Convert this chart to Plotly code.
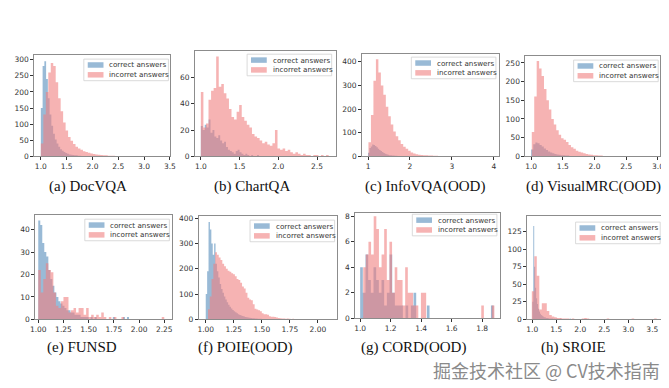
import numpy as np
import plotly.graph_objects as go

W, H = 669, 388

titles = ["(a) DocVQA", "(b) ChartQA", "(c) InfoVQA(OOD)", "(d) VisualMRC(OOD)",
          "(e) FUNSD", "(f) POIE(OOD)", "(g) CORD(OOD)", "(h) SROIE"]
legend_labels = ["correct answers", "incorret answers"]
watermark = "掘金技术社区 @ CV技术指南"

# ---- histogram data: (bin range lo, hi) and counts per bin ----
docvqa_correct_range = (1.0, 2.7)
docvqa_correct = [150, 280, 295, 240, 180, 130, 95, 70, 52, 40, 30, 22, 17, 13, 10, 8, 6, 5, 4, 3,
                  3, 2, 2, 1, 1, 1, 1, 0, 1, 0, 0, 0, 1, 0, 0, 0, 0, 0, 0, 0,
                  0, 0, 0, 0, 0, 0, 0, 0, 0, 1]
docvqa_incorrect_range = (1.0, 3.4)
docvqa_incorrect = [40, 130, 200, 260, 290, 280, 230, 180, 140, 105, 80, 60, 48, 38, 30, 24, 20, 16, 13, 11,
                    9, 7, 6, 5, 4, 3, 3, 2, 2, 2, 1, 1, 1, 1, 0, 1, 0, 0, 1, 0,
                    0, 0, 0, 1, 0, 0, 0, 0, 0, 1]

chartqa_correct_range = (1.0, 1.75)
chartqa_correct = [23, 20, 24, 22, 28, 18, 20, 15, 14, 16, 12, 10, 11, 7, 5, 4, 3, 2, 4, 5,
                   3, 2, 1, 2, 1, 0, 1, 0, 0, 1]
chartqa_incorrect_range = (1.0, 2.65)
chartqa_incorrect = [49, 22, 25, 43, 50, 52, 76, 53, 55, 48, 44, 36, 30, 28, 34, 39, 30, 27, 24, 22,
                     17, 15, 14, 12, 10, 11, 9, 8, 10, 20, 6, 5, 6, 4, 5, 3, 2, 3, 2, 1,
                     2, 1, 1, 0, 1, 1, 0, 1, 0, 1]

infovqa_correct_range = (1.0, 2.0)
infovqa_correct = [15, 35, 42, 50, 48, 44, 38, 32, 27, 22, 18, 14, 11, 9, 7, 5, 4, 3, 3, 2,
                   2, 1, 1, 1, 0, 1, 0, 0, 0, 1]
infovqa_incorrect_range = (1.01, 3.97)
infovqa_incorrect = [60, 175, 320, 411, 355, 300, 260, 210, 170, 135, 105, 85, 68, 52, 40, 32, 24, 16, 12, 9,
                     7, 6, 5, 4, 3, 3, 2, 2, 1, 1, 1, 1, 0, 1, 0, 0, 1, 0, 0, 0,
                     0, 0, 0, 0, 0, 0, 0, 0, 0, 1]

visualmrc_correct_range = (1.0, 2.0)
visualmrc_correct = [18, 32, 37, 35, 30, 26, 21, 17, 13, 10, 8, 6, 5, 4, 3, 3, 2, 2, 1, 1,
                     1, 1, 0, 1, 0, 0, 0, 0, 0, 1]
visualmrc_incorrect_range = (1.01, 2.94)
visualmrc_incorrect = [65, 160, 255, 235, 215, 180, 150, 125, 100, 85, 70, 58, 48, 44, 38, 30, 24, 20, 15, 12,
                       10, 8, 6, 5, 4, 3, 3, 2, 2, 1, 1, 1, 1, 0, 1, 0, 0, 0, 1, 0,
                       0, 0, 0, 0, 0, 0, 0, 0, 0, 1]

funsd_correct_range = (1.0, 1.9)
funsd_correct = [44, 42, 34, 30, 28, 22, 18, 15, 12, 10, 8, 7, 6, 5, 4, 4, 3, 3, 2, 2,
                 2, 1, 1, 1, 1, 0, 1, 0, 1, 0, 0, 0, 0, 0, 0, 0, 0, 1, 0, 0,
                 0, 0, 1, 0, 1]
funsd_incorrect_range = (1.0, 2.25)
funsd_incorrect = [22, 12, 18, 25, 22, 21, 12, 6, 5, 8, 10, 10, 3, 4, 5, 3, 5, 5, 2, 5,
                   1, 2, 1, 2, 1, 3, 1, 0, 1, 0, 1, 0, 0, 1, 0, 0, 0, 0, 0, 0,
                   0, 0, 0, 0, 0, 0, 0, 0, 0, 1]

poie_correct_range = (1.0, 1.625)
poie_correct = [100, 190, 385, 355, 300, 255, 300, 220, 190, 165, 140, 120, 105, 90, 78, 68, 58, 50, 43, 37,
                32, 28, 24, 20, 17, 15, 13, 11, 9, 8, 7, 6, 5, 4, 4, 3, 3, 2, 2, 2,
                1, 1, 1, 1, 1, 0, 1, 0, 0, 1]
poie_incorrect_range = (1.02, 1.82)
poie_incorrect = [40, 90, 160, 220, 265, 255, 245, 235, 220, 210, 200, 192, 188, 182, 178, 170, 160, 156, 145, 130,
                  122, 105, 85, 78, 75, 60, 42, 39, 36, 32, 24, 20, 20, 18, 12, 10, 10, 9, 7, 5,
                  4, 3, 3, 2, 3, 2, 1, 2, 1, 1]

cord_correct_range = (1.0, 1.875)
cord_correct = [4, 2, 5, 3, 2, 4, 3, 2, 3, 1, 2, 5, 2, 1, 1, 1, 0, 1, 0, 1,
                2, 0, 0, 0, 0, 1, 0, 0, 0, 0, 0, 0, 0, 0, 0, 0, 0, 0, 0, 0,
                0, 0, 0, 0, 0, 0, 0, 0, 0, 1]
cord_incorrect_range = (1.02, 1.88)
cord_incorrect = [4, 5, 6, 5, 8, 7, 4, 5, 7, 3, 6, 2, 4, 3, 3, 1, 4, 2, 2, 1,
                  1, 0, 2, 2, 0, 0, 0, 0, 0, 0, 0, 0, 0, 0, 0, 0, 0, 0, 0, 0,
                  0, 0, 0, 0, 0, 1, 0, 0, 0, 1]

sroie_correct_range = (1.0, 1.8)
sroie_correct = [25, 133, 75, 45, 30, 22, 15, 11, 8, 6, 5, 4, 3, 3, 2, 2, 2, 1, 1, 1,
                 1, 1, 0, 1, 0, 1, 0, 0, 0, 1, 0, 0, 0, 0, 0, 0, 0, 0, 0, 1]
sroie_incorrect_range = (0.99, 3.59)
sroie_incorrect = [40, 90, 62, 14, 23, 23, 12, 6, 4, 3, 2, 2, 1, 1, 1, 0, 1, 0, 0, 0,
                   1, 2, 1, 0, 0, 0, 0, 0, 0, 0, 1, 0, 0, 0, 0, 0, 0, 0, 0, 0,
                   1, 0, 0, 0, 0, 0, 0, 0, 0, 1]

# axis ranges and ticks
x_ranges = [(0.874, 3.51), (0.924, 2.74), (0.86, 4.12), (0.91, 3.035),
            (0.971, 2.33), (0.939, 2.167), (0.968, 1.916), (0.898, 3.725)]
y_ranges = [(0, 314), (0, 80), (0, 432), (0, 268), (0, 46.4), (0, 408), (0, 8.23), (0, 147)]
x_ticks = [[1.0, 1.5, 2.0, 2.5, 3.0, 3.5], [1.0, 1.5, 2.0, 2.5], [1, 2, 3, 4], [1.0, 1.5, 2.0, 2.5, 3.0],
           [1.0, 1.25, 1.5, 1.75, 2.0, 2.25], [1.0, 1.25, 1.5, 1.75, 2.0], [1.0, 1.2, 1.4, 1.6, 1.8],
           [1.0, 1.5, 2.0, 2.5, 3.0, 3.5]]
x_fmt = [".1f", ".1f", "d", ".1f", ".2f", ".2f", ".1f", ".1f"]
y_ticks = [[0, 50, 100, 150, 200, 250, 300], [0, 20, 40, 60], [0, 100, 200, 300, 400],
           [0, 50, 100, 150, 200, 250], [0, 10, 20, 30, 40], [0, 100, 200, 300, 400],
           [0, 2, 4, 6, 8], [0, 25, 50, 75, 100, 125]]

correct_sets = [(docvqa_correct_range, docvqa_correct), (chartqa_correct_range, chartqa_correct),
                (infovqa_correct_range, infovqa_correct), (visualmrc_correct_range, visualmrc_correct),
                (funsd_correct_range, funsd_correct), (poie_correct_range, poie_correct),
                (cord_correct_range, cord_correct), (sroie_correct_range, sroie_correct)]
incorrect_sets = [(docvqa_incorrect_range, docvqa_incorrect), (chartqa_incorrect_range, chartqa_incorrect),
                  (infovqa_incorrect_range, infovqa_incorrect), (visualmrc_incorrect_range, visualmrc_incorrect),
                  (funsd_incorrect_range, funsd_incorrect), (poie_incorrect_range, poie_incorrect),
                  (cord_incorrect_range, cord_incorrect), (sroie_incorrect_range, sroie_incorrect)]

# ---- layout (pixels) ----
axis_boxes = [(21.7, 46, 160, 149), (185, 42, 328, 149), (355, 45, 494, 149), (521, 47, 658, 149),
              (22.7, 209, 162, 315), (189, 210, 329, 315), (348, 207, 495, 314), (523, 210, 661, 315)]
legend_corners = [(158, 50), (324, 45), (491, 48), (656, 51),
                  (159, 213), (327, 214), (492, 208), (658, 216)]
caption_pos = [(76, 180), (243, 180), (419, 180), (590, 180),
               (70, 344), (236, 344), (407, 344), (570, 344)]

C_COR = "rgba(70,130,180,0.55)"
C_INC = "rgba(240,128,128,0.6)"
FONT = "DejaVu Sans"


def px(x):
    return x / W


def py(y):
    return 1 - y / H


fig = go.Figure()
shapes = []
annotations = []

for i in range(8):
    sfx = "" if i == 0 else str(i + 1)
    for (rng, counts), col, name in [(correct_sets[i], C_COR, legend_labels[0]),
                                     (incorrect_sets[i], C_INC, legend_labels[1])]:
        edges = np.linspace(rng[0], rng[1], len(counts) + 1)
        ys = list(counts) + [counts[-1]]
        fig.add_trace(go.Scatter(x=edges, y=ys, mode="lines", line=dict(shape="hv", width=0, color=col),
                                 fill="tozeroy", fillcolor=col,
                                 name=name, showlegend=False,
                                 xaxis="x" + sfx, yaxis="y" + sfx, hoverinfo="x+y"))
    x0, y0, x1, y1 = axis_boxes[i]
    common = dict(showline=True, mirror=True, linecolor="#8c8c8c", linewidth=1,
                  ticks="outside", ticklen=3, tickwidth=0.8, tickcolor="#333",
                  showgrid=False, zeroline=False,
                  tickfont=dict(family=FONT, size=7.5, color="#333"))
    fig.update_layout(**{
        "xaxis" + sfx: dict(domain=[px(x0), px(x1)], range=list(x_ranges[i]), anchor="y" + sfx,
                            tickvals=x_ticks[i], tickformat=x_fmt[i], **common),
        "yaxis" + sfx: dict(domain=[py(y1), py(y0)], range=list(y_ranges[i]), anchor="x" + sfx,
                            tickvals=y_ticks[i], **common),
    })

    # legend box drawn in paper space
    rx, ty = legend_corners[i]
    lx = rx - 86
    shapes.append(dict(type="rect", xref="paper", yref="paper",
                       x0=px(lx), x1=px(rx), y0=py(ty + 22), y1=py(ty),
                       fillcolor="rgba(255,255,255,0.85)", line=dict(color="#d0d0d0", width=0.8)))
    for k, (col, lab) in enumerate([(C_COR, legend_labels[0]), (C_INC, legend_labels[1])]):
        cy = ty + 6 + k * 10
        shapes.append(dict(type="rect", xref="paper", yref="paper",
                           x0=px(lx + 4), x1=px(lx + 20), y0=py(cy + 2.8), y1=py(cy - 2.8),
                           fillcolor=col, line=dict(width=0)))
        annotations.append(dict(xref="paper", yref="paper", x=px(lx + 24), y=py(cy),
                                xanchor="left", yanchor="middle", showarrow=False, text=lab,
                                font=dict(family=FONT, size=7.2, color="#333")))
    cx, cyy = caption_pos[i]
    annotations.append(dict(xref="paper", yref="paper", x=px(cx), y=py(cyy),
                            xanchor="center", yanchor="middle", showarrow=False, text=titles[i],
                            font=dict(family="Liberation Serif", size=15, color="#111")))

annotations.append(dict(xref="paper", yref="paper", x=px(660), y=py(367),
                        xanchor="right", yanchor="middle", showarrow=False, text=watermark,
                        font=dict(family="Noto Sans CJK SC", size=18, color="#8a8a8a")))

fig.update_layout(width=W, height=H, margin=dict(l=0, r=0, t=0, b=0),
                  paper_bgcolor="white", plot_bgcolor="white",
                  showlegend=False, shapes=shapes, annotations=annotations)

fig.write_html("out.html")
